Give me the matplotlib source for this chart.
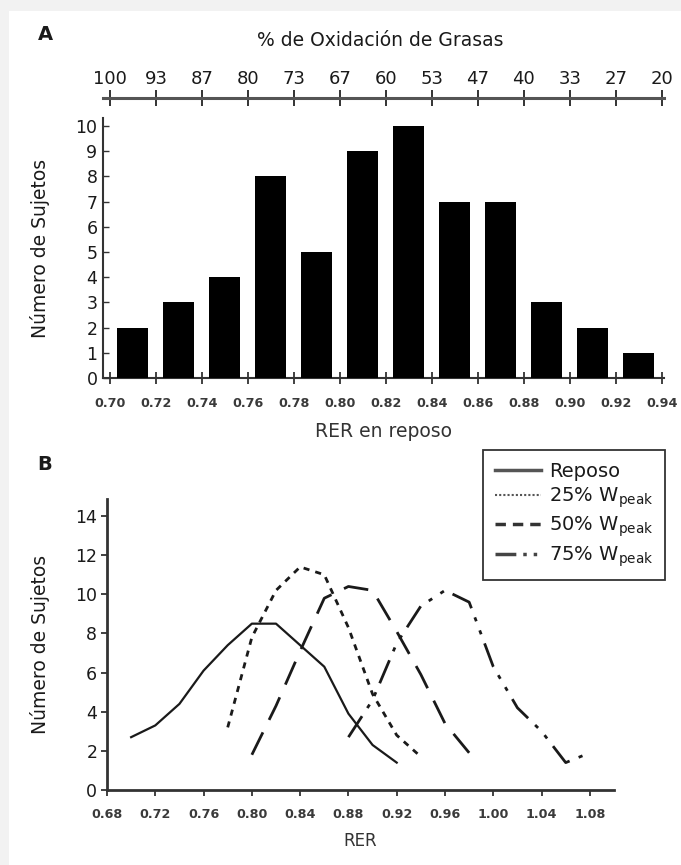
import matplotlib
matplotlib.use("Agg")
import matplotlib.pyplot as plt
from matplotlib.lines import Line2D
from matplotlib.patches import Rectangle

# ---------------- data ----------------
# Panel A: histogram of resting RER
bin_centers = [0.71, 0.73, 0.75, 0.77, 0.79, 0.81, 0.83, 0.85, 0.87, 0.89, 0.91, 0.93]
bin_counts = [2, 3, 4, 8, 5, 9, 10, 7, 7, 3, 2, 1]
a_xticks = [0.70, 0.72, 0.74, 0.76, 0.78, 0.80, 0.82, 0.84, 0.86, 0.88, 0.90, 0.92, 0.94]
a_xticklabels = ["0.70", "0.72", "0.74", "0.76", "0.78", "0.80", "0.82", "0.84",
                 "0.86", "0.88", "0.90", "0.92", "0.94"]
fat_ox_labels = ["100", "93", "87", "80", "73", "67", "60", "53", "47", "40", "33", "27", "20"]
a_yticks = [0, 1, 2, 3, 4, 5, 6, 7, 8, 9, 10]

# Panel B: distributions of RER at rest and exercise intensities
reposo_x = [0.70, 0.72, 0.74, 0.76, 0.78, 0.80, 0.82, 0.84, 0.86, 0.88, 0.90, 0.92]
reposo_y = [2.7, 3.3, 4.4, 6.1, 7.4, 8.5, 8.5, 7.4, 6.3, 3.9, 2.3, 1.4]
w25_x = [0.78, 0.80, 0.82, 0.84, 0.86, 0.88, 0.90, 0.92, 0.94]
w25_y = [3.2, 7.8, 10.2, 11.4, 11.0, 8.3, 4.9, 2.8, 1.7]
w50_x = [0.80, 0.82, 0.84, 0.86, 0.88, 0.90, 0.92, 0.94, 0.96, 0.98]
w50_y = [1.8, 4.3, 7.1, 9.8, 10.4, 10.2, 8.1, 5.9, 3.4, 1.9]
w75_x = [0.88, 0.90, 0.92, 0.94, 0.96, 0.98, 1.00, 1.02, 1.04, 1.06, 1.08]
w75_y = [2.7, 4.6, 7.5, 9.4, 10.2, 9.6, 6.3, 4.2, 3.0, 1.4, 1.9]
b_xticks = [0.68, 0.72, 0.76, 0.80, 0.84, 0.88, 0.92, 0.96, 1.00, 1.04, 1.08]
b_xticklabels = ["0.68", "0.72", "0.76", "0.80", "0.84", "0.88", "0.92", "0.96",
                 "1.00", "1.04", "1.08"]
b_yticks = [0, 2, 4, 6, 8, 10, 12, 14]
legend_labels = ["Reposo", r"25% W$_{\rm peak}$", r"50% W$_{\rm peak}$", r"75% W$_{\rm peak}$"]

# ---------------- figure ----------------
W, H = 681, 865
fig = plt.figure(figsize=(W / 100, H / 100), dpi=100)
fig.patch.set_facecolor("#f2f2f2")
fig.patches.append(Rectangle((9 / W, 0), 1, 1 - 11 / H, transform=fig.transFigure,
                             facecolor="white", edgecolor="none", zorder=-10))

TXT = "#1a1a1a"
AX = "#333333"
tick_font = dict(family="DejaVu Sans", weight="bold", size=9.2)

# ---------------- Panel A ----------------
axA = fig.add_axes([103 / W, (H - 378) / H, 561 / W, 259.6 / H])
axA.set_facecolor("none")
axA.bar(bin_centers, bin_counts, width=0.0135, color="black", zorder=3)
axA.set_xlim(0.697, 0.941)
axA.set_ylim(0, 10.3)
for s in ["top", "right"]:
    axA.spines[s].set_visible(False)
for s in ["left", "bottom"]:
    axA.spines[s].set_color(AX)
    axA.spines[s].set_linewidth(1.5)
axA.set_xticks(a_xticks)
axA.set_xticklabels(a_xticklabels, fontdict=tick_font, color="#3a3a3a")
axA.set_yticks(a_yticks)
axA.set_yticklabels([str(v) for v in a_yticks], fontsize=12.5, color=TXT)
axA.tick_params(axis="x", direction="inout", length=8, width=1.3, color=AX, pad=10)
axA.tick_params(axis="y", direction="in", length=4, width=1.0, color=AX, pad=4)
axA.set_ylabel("Número de Sujetos", fontsize=13.5, color=TXT, labelpad=18)
axA.set_xlabel("RER en reposo", fontsize=13.5, color="#333333", labelpad=8)


def rer2pct(r):
    return (1.0 - r) / 0.30 * 100.0


def pct2rer(p):
    return 1.0 - p / 100.0 * 0.30


secax = axA.secondary_xaxis((378 - 98) / 259.6, functions=(rer2pct, pct2rer))
secax.set_xticks([rer2pct(v) for v in a_xticks])
secax.set_xticklabels(fat_ox_labels, fontsize=13, color=TXT)
secax.tick_params(direction="inout", length=11, width=1.4, color=AX, pad=2)
secax.spines["top"].set_linewidth(2.2)
secax.spines["top"].set_color("#555555")
fig.text(380 / W, 1 - 40 / H, "% de Oxidación de Grasas", ha="center", va="center",
         fontsize=13.5, color=TXT)
fig.text(45 / W, 1 - 35 / H, "A", ha="center", va="center", fontsize=14,
         fontweight="bold", color=TXT)

# ---------------- Panel B ----------------
axB = fig.add_axes([107 / W, 75 / H, 507 / W, 291 / H])
axB.set_facecolor("none")
lc = "#1a1a1a"
axB.plot(reposo_x, reposo_y, color=lc, lw=1.6, ls="-")
axB.plot(w25_x, w25_y, color=lc, lw=2.0, dashes=(2.2, 2.2))
axB.plot(w50_x, w50_y, color=lc, lw=2.0, dashes=(9, 5))
axB.plot(w75_x, w75_y, color=lc, lw=2.0, dashes=(9, 3.5, 1.5, 3.5, 1.5, 3.5))
axB.set_xlim(0.68, 1.10)
axB.set_ylim(0, 14.87)
for s in ["top", "right"]:
    axB.spines[s].set_visible(False)
for s in ["left", "bottom"]:
    axB.spines[s].set_color(AX)
    axB.spines[s].set_linewidth(2.0)
axB.set_xticks(b_xticks)
axB.set_xticklabels(b_xticklabels, fontdict=tick_font, color="#3a3a3a")
axB.set_yticks(b_yticks)
axB.set_yticklabels([str(v) for v in b_yticks], fontsize=12.5, color=TXT)
axB.tick_params(axis="x", direction="out", length=4, width=1.3, color=AX, pad=9)
axB.tick_params(axis="y", direction="out", length=4, width=1.3, color=AX, pad=3)
axB.set_ylabel("Número de Sujetos", fontsize=13.5, color=TXT, labelpad=18)
axB.set_xlabel("RER", fontsize=12, color="#333333", labelpad=8)
fig.text(45 / W, 1 - 465 / H, "B", ha="center", va="center", fontsize=14,
         fontweight="bold", color=TXT)

handles = [
    Line2D([], [], color="#555555", lw=2.5, ls="-"),
    Line2D([], [], color="#555555", lw=1.5, dashes=(1, 1)),
    Line2D([], [], color="#333333", lw=2.5, dashes=(3, 2)),
    Line2D([], [], color="#444444", lw=2.5, dashes=(6, 2, 1, 2, 1, 2)),
]
leg = fig.legend(handles, legend_labels, loc="upper right",
                 bbox_to_anchor=(665 / W, 1 - 450 / H), bbox_transform=fig.transFigure,
                 fontsize=14, frameon=True, fancybox=False, handlelength=2.4,
                 handletextpad=0.4, borderpad=0.6, labelspacing=0.25,
                 borderaxespad=0)
leg.get_frame().set_edgecolor("black")
leg.get_frame().set_linewidth(1.3)
for t in leg.get_texts():
    t.set_color(TXT)

fig.savefig("out.png", dpi=100, facecolor=fig.get_facecolor())
